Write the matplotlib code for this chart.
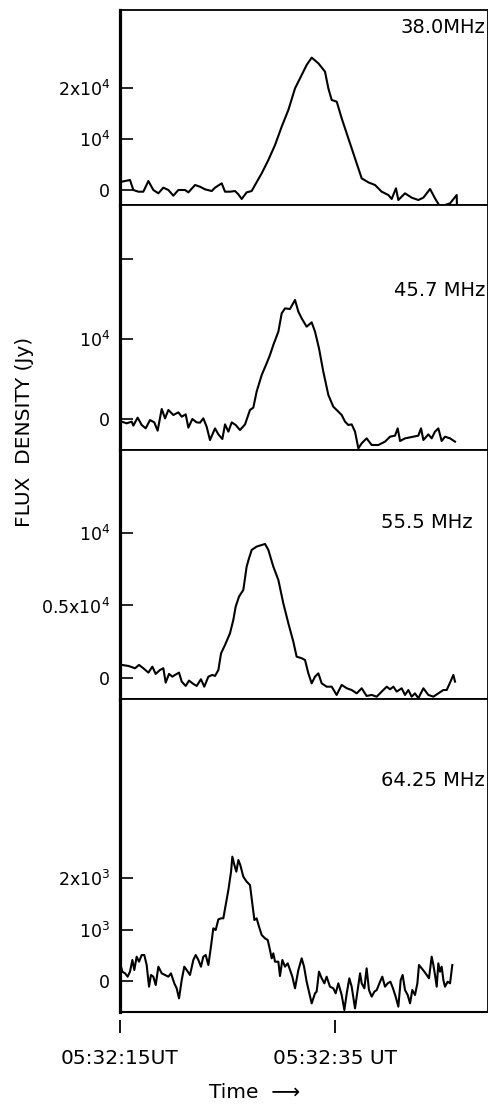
import matplotlib
matplotlib.use('Agg')
from matplotlib import pyplot as plt

plt.rcParams['font.family'] = ['DejaVu Sans']

# seconds after 05:32:15 UT, flux density in Jy
t_380 = [0.16, 0.93, 1.24, 1.71, 2.17, 2.64, 3.10, 3.57, 4.03, 4.50, 4.96, 5.43, 6.05, 6.36,
         6.98, 7.44, 7.91, 8.53, 8.84, 9.46, 9.77, 10.23, 10.70, 11.01, 11.32, 11.78, 12.25,
         12.56, 13.18, 13.80, 14.42, 15.04, 15.66, 16.28, 16.90, 17.36, 17.83, 18.45, 19.07,
         19.38, 19.69, 20.16, 20.62, 21.24, 21.86, 22.48, 23.10, 23.72, 24.34, 24.96, 25.27,
         25.67, 25.89, 26.51, 27.13, 27.75, 28.22, 28.84, 29.30, 29.77, 30.23, 30.70, 31.32, 31.35]
f_380 = [1630, 1960, 0, -330, -330, 1760, 0, -650, 460, 0, -1110, 0, 0, -460,
         980, 650, 130, -200, 460, 1310, -330, -330, -200, -850, -1760, -460, -200,
         980, 3270, 5880, 8820, 12420, 15690, 19930, 22550, 24510, 25950, 24840, 23200,
         19930, 17650, 17320, 14050, 10130, 6210, 2290, 1500, 980, -330, -980, -1760,
         330, -1960, -650, -1500, -1960, -1500, 200, -1630, -3270, -2940, -2610, -980, -4250]

t_457 = [0.16, 0.62, 1.09, 1.24, 1.64, 2.02, 2.39, 2.79, 3.19, 3.50, 3.88, 4.19, 4.50, 4.96,
         5.43, 5.74, 6.11, 6.36, 6.73, 7.13, 7.44, 7.75, 8.06, 8.37, 8.84, 9.15, 9.52, 9.77,
         10.08, 10.39, 10.76, 11.16, 11.63, 12.09, 12.40, 12.71, 13.18, 13.64, 13.95, 14.26,
         14.73, 15.04, 15.35, 15.81, 16.28, 16.59, 16.90, 17.36, 17.83, 18.14, 18.51, 18.91,
         19.38, 19.84, 20.31, 20.62, 20.93, 21.24, 21.55, 21.86, 22.17, 22.48, 22.94, 23.41,
         24.03, 24.65, 25.12, 25.58, 25.83, 26.05, 26.51, 27.29, 27.75, 28.00, 28.22, 28.68,
         28.99, 29.30, 29.61, 29.92, 30.23, 30.70, 31.16]
f_457 = [-330, -540, -330, -830, 170, -750, -1170, -130, -420, -1460, 1250, 80, 1130, 500,
         830, 290, 580, -1080, 0, -420, -460, 80, -960, -2630, -1170, -1920, -2500, -670,
         -1580, -420, -750, -1380, -670, 1130, 1420, 3420, 5500, 6960, 8000, 9250,
         10920, 13210, 13830, 13750, 14880, 13420, 12580, 11540, 12080, 10920, 8830, 5920,
         3000, 1540, 920, 500, -330, -750, -670, -1580, -3670, -3040, -2420, -3250,
         -3250, -2830, -2210, -2080, -1170, -2750, -2420, -2210, -2080, -1170, -2630, -1920,
         -2420, -1580, -1170, -2750, -2210, -2420, -2830]

t_555 = [0.16, 0.78, 1.40, 1.77, 2.17, 2.64, 3.01, 3.32, 3.72, 4.03, 4.25, 4.56, 4.87, 5.12,
         5.49, 5.74, 6.11, 6.42, 6.82, 7.13, 7.53, 7.84, 8.22, 8.59, 8.84, 9.15, 9.40, 9.77,
         10.23, 10.54, 10.76, 11.07, 11.47, 11.78, 12.00, 12.25, 12.71, 13.18, 13.49, 13.80,
         14.26, 14.73, 15.19, 15.66, 16.12, 16.43, 16.90, 17.21, 17.52, 17.83, 18.14, 18.45,
         18.76, 19.22, 19.69, 20.15, 20.62, 21.09, 21.55, 22.02, 22.48, 22.94, 23.41, 23.88,
         24.34, 24.81, 25.12, 25.43, 25.74, 26.20, 26.51, 26.82, 27.13, 27.44, 27.75, 28.22,
         28.68, 29.15, 29.61, 30.08, 30.39, 30.70, 31.01, 31.16]
f_555 = [900, 830, 670, 900, 670, 370, 780, 280, 550, 670, -320, 280, 90, 210,
         370, -250, -550, -180, -410, -550, -90, -600, 90, 210, 140, 550, 1700, 2280,
         3080, 4000, 4920, 5610, 6070, 7680, 8250, 8830, 9060, 9170, 9240, 8830,
         7680, 6760, 5150, 3770, 2510, 1470, 1360, 1240, 320, -370, 90, 320,
         -370, -600, -600, -1170, -480, -710, -830, -1060, -710, -1240, -1170, -1290,
         -940, -600, -780, -600, -940, -710, -1170, -830, -1290, -1060, -1400, -710,
         -1170, -1290, -1060, -830, -830, -320, 210, -250]

t_6425 = [0.00, 0.22, 0.47, 0.71, 0.93, 1.15, 1.33, 1.55, 1.77, 2.02, 2.26, 2.48, 2.70, 2.88,
          3.10, 3.32, 3.57, 3.88, 4.19, 4.50, 4.74, 5.05, 5.27, 5.49, 5.74, 5.98, 6.20, 6.51,
          6.82, 7.04, 7.29, 7.53, 7.75, 7.97, 8.22, 8.46, 8.68, 8.90, 9.15, 9.40, 9.61, 9.83,
          10.08, 10.33, 10.45, 10.64, 10.82, 11.01, 11.19, 11.47, 11.78, 12.09, 12.31, 12.50,
          12.71, 12.93, 13.18, 13.49, 13.74, 13.95, 14.11, 14.26, 14.42, 14.73, 14.88, 15.10,
          15.35, 15.60, 15.81, 16.03, 16.28, 16.59, 16.90, 17.12, 17.36, 17.58, 17.83, 18.14,
          18.29, 18.51, 18.76, 19.01, 19.22, 19.53, 19.84, 20.06, 20.31, 20.62, 20.87, 21.09,
          21.33, 21.55, 21.86, 22.11, 22.33, 22.48, 22.73, 22.94, 23.16, 23.41, 23.66, 23.88,
          24.19, 24.40, 24.65, 24.90, 25.15, 25.39, 25.64, 25.89, 26.11, 26.29, 26.51, 26.76,
          26.98, 27.19, 27.44, 27.66, 27.81, 28.06, 28.31, 28.53, 28.74, 28.99, 29.15, 29.30,
          29.46, 29.61, 29.77, 29.92, 30.08, 30.23, 30.48, 30.70, 30.91]
f_6425 = [343, 181, 149, 84, 181, 408, 214, 472, 375, 505, 505, 311, -110, 117,
          84, -78, 278, 149, 117, 84, 149, -45, -142, -337, 19, 278, 214, 117,
          408, 505, 408, 278, 472, 505, 311, 667, 1023, 990, 1197, 1217, 1217, 1476,
          1767, 2123, 2414, 2252, 2123, 2349, 2252, 2026, 1929, 1864, 1508, 1184,
          1217, 1055, 893, 828, 796, 602, 440, 537, 375, 375, 97, 408,
          278, 343, 214, 84, -142, 214, 440, 278, -13, -207, -434, -239,
          -207, 181, 52, -45, 84, -110, -142, -239, -45, -272, -563, -239,
          52, -110, -531, -175, 149, -45, -142, 246, -175, -304, -207, -175,
          -13, 84, -110, -45, -13, -142, -304, -498, 19, 117, -175, -272,
          -434, -175, -272, -45, 311, 246, 181, 117, 52, 472, 311, 117,
          -110, 343, 181, 278, 19, -110, -13, -45, 311]

freq_labels = ['38.0MHz', '45.7 MHz', '55.5 MHz', '64.25 MHz']
tick_vals = [[0, 1e4, 2e4], [0, 1e4, 2e4], [0, 5e3, 1e4], [0, 1e3, 2e3]]
tick_text = [['0', '10$^4$', '2x10$^4$'], ['0', '10$^4$', ''],
             ['0', '0.5x10$^4$', '10$^4$'], ['0', '10$^3$', '2x10$^3$']]
ylims = [(-2940, 35290), (-3875, 26750), (-1450, 15720), (-602, 5476)]
xtick_vals = [0, 20]
xtick_text = ['05:32:15UT', '05:32:35 UT']

series = [(t_380, f_380), (t_457, f_457), (t_555, f_555), (t_6425, f_6425)]

# panel boxes in pixels (top, bottom) of a 489x1104 figure
W, H = 489.0, 1104.0
boxes = [(10, 205), (205, 450), (450, 699), (699, 1012)]
label_pos = [(0.992, 0.908), (0.992, 0.653), (0.957, 0.707), (0.992, 0.741)]

fig = plt.figure(figsize=(4.89, 11.04), dpi=100, facecolor='white')
axes = []
for i, (top, bot) in enumerate(boxes):
    ax = fig.add_axes([120 / W, 1 - bot / H, 368 / W, (bot - top) / H])
    t, f = series[i]
    ax.plot(t, f, color='black', lw=1.5)
    ax.set_xlim(0, 34.23)
    ax.set_ylim(*ylims[i])
    ax.set_yticks(tick_vals[i])
    ax.set_yticklabels(tick_text[i])
    ax.tick_params(axis='y', direction='in', length=9, width=1.2, pad=7, labelsize=12.5)
    for s in ax.spines.values():
        s.set_linewidth(1.3)
    ax.spines['left'].set_linewidth(2.3)
    ax.text(label_pos[i][0], label_pos[i][1], freq_labels[i], transform=ax.transAxes,
            ha='right', va='center', fontsize=14)
    if i < 3:
        ax.tick_params(axis='x', bottom=False, labelbottom=False)
    axes.append(ax)

ax4 = axes[-1]
ax4.spines['bottom'].set_position(('outward', 6))
ax4.spines['bottom'].set_visible(False)
ax4.axhline(ylims[3][0], color='black', lw=1.5, clip_on=False)
ax4.set_xticks(xtick_vals)
ax4.set_xticklabels(xtick_text)
ax4.tick_params(axis='x', direction='out', length=9.5, width=1.3, pad=11, labelsize=14.5)

fig.text(25 / W, 1 - 432 / H, 'FLUX  DENSITY (Jy)', rotation=90, ha='center', va='center',
         fontsize=14.5)
fig.text(255 / W, 1 - 1093 / H, 'Time  \u27f6', ha='center', va='center', fontsize=14.5)

fig.savefig('out.png', dpi=100)
